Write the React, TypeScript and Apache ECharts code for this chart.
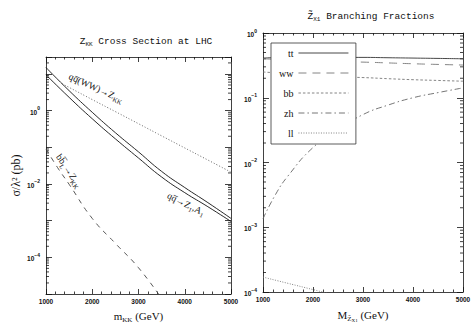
import React, { useEffect, useRef } from 'react';
import * as echarts from 'echarts';

// ---- Left panel: Z_KK cross section at LHC ----
const kkMass = [1000, 1500, 2000, 2500, 3000, 3500, 4000, 4500, 5000];
const sigmaZ1 = [15, 3.5, 0.9, 0.25, 0.075, 0.022, 0.008, 0.0031, 0.00115];
const sigmaA1 = [9.5, 2.3, 0.6, 0.17, 0.051, 0.0155, 0.0058, 0.0024, 0.00095];
const wwMass = [1350, 1500, 2000, 2500, 3000, 3500, 4000, 4500, 5000];
const sigmaWW = [5.4, 4.3, 2.0, 0.94, 0.44, 0.205, 0.096, 0.045, 0.021];
const bbMass = [1000, 1250, 1500, 2000, 2500, 3000, 3500];
const sigmaBB = [0.09, 0.028, 0.0098, 0.00115, 0.00024, 0.000052, 0.0000075];

// ---- Right panel: branching fractions ----
const brMass = [1000, 1500, 2000, 2500, 3000, 3500, 4000, 4500, 5000];
const brTT = [0.41, 0.42, 0.42, 0.42, 0.42, 0.415, 0.41, 0.405, 0.4];
const brWW = [0.4, 0.385, 0.37, 0.36, 0.355, 0.345, 0.335, 0.327, 0.32];
const brBB = [0.25, 0.235, 0.22, 0.21, 0.205, 0.197, 0.19, 0.185, 0.18];
const zhMass = [1000, 1250, 1500, 2000, 2500, 3000, 3500, 4000, 4500, 5000];
const brZH = [0.00135, 0.0032, 0.0062, 0.017, 0.032, 0.055, 0.077, 0.1, 0.12, 0.142];
const llMass = [1000, 1500, 2000, 2500, 3000];
const brLL = [0.00017, 0.000136, 0.000109, 0.000087, 0.00007];

const legendNames = ['tt', 'ww', 'bb', 'zh', 'll'];
const xTicks = [1000, 2000, 3000, 4000, 5000];

const zip = (xs: number[], ys: number[]) => xs.map((x, i) => [x, ys[i]]);

function minorValues(lo: number, hi: number, kLo: number, kHi: number) {
  const out: number[][] = [];
  for (let k = kLo; k <= kHi; k++) {
    for (let m = 2; m <= 9; m++) {
      const v = m * Math.pow(10, k);
      if (v > lo && v < hi) out.push([1000, v]);
    }
  }
  return out;
}

const INK = '#111';
const tickFont = { fontFamily: 'Liberation Sans', fontSize: 6.5, fontWeight: 'bold' as const, color: INK };

function supFormatter(showOdd: boolean) {
  return (v: number) => {
    const e = Math.log10(v);
    const r = Math.round(e);
    if (Math.abs(e - r) > 1e-6) return '';
    if (!showOdd && r % 2 !== 0) return '';
    return `{b|10}{s|${r < 0 ? '\u2212' + -r : r}}`;
  };
}
const supRich = {
  b: { fontFamily: 'Liberation Sans', fontSize: 6.5, fontWeight: 'bold', color: INK, verticalAlign: 'bottom', lineHeight: 10 },
  s: { fontFamily: 'Liberation Sans', fontSize: 5, fontWeight: 'bold', color: INK, verticalAlign: 'top', lineHeight: 10 },
};

function xAxes(gridIndex: number, name: any) {
  const common = {
    gridIndex,
    type: 'value',
    min: 1000,
    max: 5000,
    interval: 1000,
    splitLine: { show: false },
    axisLine: { show: true, lineStyle: { color: INK, width: 0.8 } },
    axisTick: { show: true, inside: true, length: 5, lineStyle: { color: INK, width: 0.8 } },
    minorTick: { show: true, splitNumber: 5, length: 2.5, lineStyle: { color: INK, width: 0.8 } },
  };
  return [
    {
      ...common,
      position: 'bottom',
      axisLabel: { ...tickFont, margin: 4, formatter: (v: number) => (xTicks.includes(v) ? String(v) : '') },
      ...name,
    },
    { ...common, position: 'top', axisLabel: { show: false } },
  ];
}

function yAxes(gridIndex: number, min: number, max: number, showOdd: boolean, name?: any) {
  const common = {
    gridIndex,
    type: 'log',
    logBase: 10,
    min,
    max,
    splitLine: { show: false },
    axisLine: { show: true, lineStyle: { color: INK, width: 0.8 } },
    axisTick: { show: true, inside: true, length: 6, lineStyle: { color: INK, width: 0.8 } },
    minorTick: { show: false },
  };
  return [
    {
      ...common,
      position: 'left',
      axisLabel: { margin: 6, formatter: supFormatter(showOdd), rich: supRich },
      ...(name || {}),
    },
    { ...common, position: 'right', axisLabel: { show: false } },
  ];
}

function minorTickSeries(xAxisIndex: number, yAxisIndex: number, data: number[][]) {
  return {
    type: 'custom',
    xAxisIndex,
    yAxisIndex,
    silent: true,
    data,
    encode: { x: 0, y: 1 },
    renderItem: (_p: any, api: any) => {
      const v = api.value(1);
      const l = api.coord([1000, v]);
      const r = api.coord([5000, v]);
      const st = { stroke: INK, lineWidth: 0.8 };
      return {
        type: 'group',
        children: [
          { type: 'line', shape: { x1: l[0], y1: l[1], x2: l[0] + 3, y2: l[1] }, style: st },
          { type: 'line', shape: { x1: r[0] - 3, y1: r[1], x2: r[0], y2: r[1] }, style: st },
        ],
      };
    },
  };
}

const serif = 'Liberation Serif';
const mono = 'Liberation Mono';
const annoRich = {
  t: { fontFamily: serif, fontSize: 9.5, fill: INK },
  s: { fontFamily: serif, fontSize: 6.5, fill: INK, padding: [6, 0, 0, 0] },
};

function lineSeries(name: string | undefined, xi: number, xs: number[], ys: number[], color: string, type: any) {
  return {
    name,
    type: 'line',
    xAxisIndex: xi,
    yAxisIndex: xi,
    data: zip(xs, ys),
    showSymbol: false,
    symbol: 'none',
    smooth: true,
    itemStyle: { color },
    lineStyle: { color, width: 0.9, type },
  };
}

export default function App() {
  const ref = useRef<HTMLDivElement>(null);
  useEffect(() => {
    document.body.style.margin = '0';
    if (!ref.current) return;
    const chart = echarts.init(ref.current, null, { renderer: 'svg' });
    const option: any = {
      animation: false,
      backgroundColor: '#fff',
      grid: [
        { left: 46, top: 57, width: 185, height: 238 },
        { left: 263, top: 33, width: 200, height: 263 },
      ],
      xAxis: [
        ...xAxes(0, {
          name: '{t|m}{s|KK}{t| (GeV)}',
          nameLocation: 'middle',
          nameGap: 15,
          nameTextStyle: {
            rich: {
              t: { fontFamily: serif, fontSize: 11, color: INK },
              s: { fontFamily: serif, fontSize: 7, color: INK, padding: [7, 0, 0, 0] },
            },
          },
        }),
        ...xAxes(1, {
          name: '{t|M}{s|Z\u0303}{ss|X1}{t| (GeV)}',
          nameLocation: 'middle',
          nameGap: 14,
          nameTextStyle: {
            rich: {
              t: { fontFamily: serif, fontSize: 11, color: INK },
              s: { fontFamily: serif, fontSize: 7, color: INK, padding: [8, 0, 0, 0] },
              ss: { fontFamily: serif, fontSize: 5, color: INK, padding: [12, 0, 0, 0] },
            },
          },
        }),
      ],
      yAxis: [
        ...yAxes(0, 1e-5, 29, false, {
          name: '\u03c3/\u03bb\u00b2 (pb)',
          nameLocation: 'middle',
          nameGap: 24,
          nameTextStyle: { fontFamily: serif, fontSize: 12, color: INK },
        }),
        ...yAxes(1, 1e-4, 1, true),
      ],
      legend: {
        data: legendNames,
        orient: 'vertical',
        left: 271,
        top: 43,
        align: 'right',
        itemWidth: 50,
        itemHeight: 10,
        itemGap: 10,
        padding: [5, 7, 6, 8],
        backgroundColor: '#fff',
        borderColor: '#333',
        borderWidth: 0.8,
        borderRadius: 0,
        selectedMode: false,
        itemStyle: { opacity: 0 },
        lineStyle: { width: 0.9 },
        textStyle: { fontFamily: serif, fontSize: 10, color: INK, width: 10 },
      },
      series: [
        lineSeries(undefined, 0, kkMass, sigmaZ1, INK, 'solid'),
        lineSeries(undefined, 0, kkMass, sigmaA1, INK, 'solid'),
        lineSeries(undefined, 0, wwMass, sigmaWW, '#555', [1, 2]),
        lineSeries(undefined, 0, bbMass, sigmaBB, '#444', [5, 5]),
        lineSeries('tt', 2, brMass, brTT, '#333', 'solid'),
        lineSeries('ww', 2, brMass, brWW, '#777', [8, 6]),
        lineSeries('bb', 2, brMass, brBB, '#777', [2.5, 2]),
        lineSeries('zh', 2, zhMass, brZH, '#666', [6, 3, 1.5, 3]),
        lineSeries('ll', 2, llMass, brLL, '#777', [1, 1.5]),
        minorTickSeries(0, 0, minorValues(1e-5, 29, -5, 1)),
        minorTickSeries(2, 2, minorValues(1e-4, 1, -4, -1)),
      ],
      graphic: [
        {
          type: 'text', x: 146, y: 41,
          style: {
            text: '{t|Z}{s|KK}{t| Cross Section at LHC}', textAlign: 'center', textVerticalAlign: 'middle',
            rich: { t: { fontFamily: mono, fontSize: 9.5, fill: INK }, s: { fontFamily: mono, fontSize: 6, fill: INK, padding: [6, 0, 0, 0] } },
          },
        },
        {
          type: 'text', x: 371, y: 16,
          style: {
            text: '{t|Z\u0303}{s|X1}{t| Branching Fractions}', textAlign: 'center', textVerticalAlign: 'middle',
            rich: { t: { fontFamily: mono, fontSize: 9.5, fill: INK }, s: { fontFamily: mono, fontSize: 6, fill: INK, padding: [6, 0, 0, 0] } },
          },
        },
        {
          type: 'text', x: 96, y: 88, rotation: (-24 * Math.PI) / 180,
          style: { text: '{t|qq\u0305(WW)\u2192Z}{s|KK}', textAlign: 'center', textVerticalAlign: 'middle', rich: annoRich },
        },
        {
          type: 'text', x: 69, y: 171, rotation: (-56 * Math.PI) / 180,
          style: { text: '{t|bb\u0305}{s|L}{t|\u2192Z}{s|KK}', textAlign: 'center', textVerticalAlign: 'middle', rich: annoRich },
        },
        {
          type: 'text', x: 186, y: 204, rotation: (-26 * Math.PI) / 180,
          style: { text: '{t|qq\u0305\u2192Z}{s|1}{t|,A}{s|1}', textAlign: 'center', textVerticalAlign: 'middle', rich: annoRich },
        },
      ],
    };
    chart.setOption(option);
    return () => chart.dispose();
  }, []);
  return <div ref={ref} style={{ width: 475, height: 328 }} />;
}
